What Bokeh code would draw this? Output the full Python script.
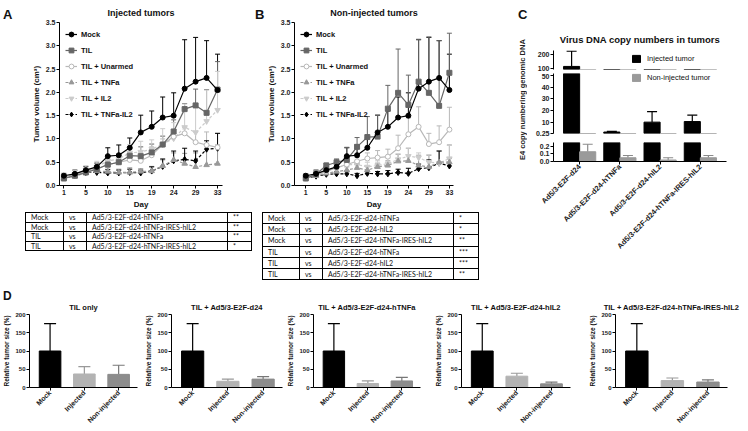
import math
from bokeh.plotting import figure
from bokeh.models import (ColumnDataSource, Whisker, TeeHead, Legend, LegendItem, FixedTicker,
                          Div, Spacer, Range1d, PrintfTickFormatter, NumeralTickFormatter)
from bokeh.layouts import row, column
from bokeh.transform import dodge
from bokeh.embed import file_html
from bokeh.resources import INLINE

# ---------------- data ----------------
days = [1, 3, 5, 8, 10, 12, 15, 17, 19, 22, 24, 26, 29, 31, 33]
day_ticks = [1, 5, 10, 15, 19, 24, 29, 33]
vol_ticks = [0.0, 0.5, 1.0, 1.5, 2.0, 2.5, 3.0, 3.5]
series_names = ["Mock", "TIL", "TIL + Unarmed", "TIL + TNFa", "TIL + IL2", "TIL + TNFa-IL2"]

# A: injected tumors (mean, SEM)
mock_a = [0.21, 0.25, 0.33, 0.40, 0.63, 0.65, 0.81, 1.14, 1.26, 1.46, 1.50, 2.08, 2.23, 2.31, 2.05]
mock_a_err = [0.04, 0.08, 0.08, 0.08, 0.18, 0.22, 0.21, 0.37, 0.34, 0.44, 0.49, 1.05, 0.95, 0.80, 0.77]
til_a = [0.15, 0.21, 0.28, 0.35, 0.45, 0.50, 0.64, 0.63, 0.71, 0.88, 1.16, 1.64, 1.72, 1.56, 2.06]
til_a_err = [0.05, 0.05, 0.06, 0.07, 0.08, 0.10, 0.15, 0.20, 0.18, 0.18, 0.25, 0.12, 0.35, 0.50, 0.60]
unarmed_a = [0.18, 0.22, 0.30, 0.36, 0.45, 0.50, 0.55, 0.53, 0.65, 0.88, 1.05, 1.12, 0.93, 0.87, 0.82]
unarmed_a_err = [0.04, 0.06, 0.08, 0.10, 0.12, 0.12, 0.15, 0.17, 0.18, 0.12, 0.15, 0.13, 0.22, 0.28, 0.30]
tnfa_a = [0.16, 0.20, 0.27, 0.31, 0.30, 0.28, 0.28, 0.30, 0.31, 0.42, 0.55, 0.47, 0.40, 0.44, 0.47]
tnfa_a_err = [0.04, 0.05, 0.05, 0.07, 0.08, 0.07, 0.10, 0.06, 0.10, 0.13, 0.15, 0.22, 0.30, 0.36, 0.40]
il2_a = [0.20, 0.24, 0.33, 0.40, 0.53, 0.57, 0.70, 0.72, 0.78, 0.88, 1.01, 1.25, 1.14, 1.38, 1.62]
il2_a_err = [0.07, 0.08, 0.09, 0.12, 0.12, 0.11, 0.18, 0.23, 0.20, 0.34, 0.34, 0.50, 0.58, 0.67, 0.83]
tnfail2_a = [0.17, 0.22, 0.28, 0.28, 0.27, 0.27, 0.28, 0.27, 0.31, 0.41, 0.53, 0.56, 0.53, 0.78, 0.80]
tnfail2_a_err = [0.05, 0.06, 0.04, 0.07, 0.07, 0.06, 0.07, 0.06, 0.09, 0.16, 0.21, 0.24, 0.21, 0.18, 0.32]

# B: non-injected tumors (mean, SEM)
mock_b = [0.21, 0.25, 0.33, 0.40, 0.63, 0.65, 0.81, 1.14, 1.26, 1.46, 1.50, 2.08, 2.23, 2.31, 2.05]
mock_b_err = [0.04, 0.08, 0.08, 0.08, 0.18, 0.22, 0.21, 0.37, 0.34, 0.44, 0.49, 1.05, 0.95, 0.80, 0.77]
til_b = [0.15, 0.24, 0.43, 0.50, 0.55, 0.83, 1.04, 1.05, 1.65, 1.99, 1.73, 2.23, 1.99, 1.71, 2.42]
til_b_err = [0.05, 0.07, 0.05, 0.07, 0.27, 0.20, 0.44, 0.46, 0.50, 0.94, 0.64, 0.91, 1.20, 1.40, 0.85]
unarmed_b = [0.18, 0.22, 0.30, 0.38, 0.45, 0.52, 0.58, 0.60, 0.62, 0.80, 1.10, 1.26, 0.89, 0.93, 1.20]
unarmed_b_err = [0.04, 0.05, 0.07, 0.08, 0.10, 0.08, 0.12, 0.15, 0.16, 0.28, 0.35, 0.43, 0.23, 0.35, 0.48]
tnfa_b = [0.17, 0.21, 0.26, 0.30, 0.33, 0.38, 0.33, 0.40, 0.43, 0.52, 0.53, 0.43, 0.40, 0.50, 0.50]
tnfa_b_err = [0.04, 0.05, 0.05, 0.06, 0.07, 0.07, 0.08, 0.08, 0.10, 0.15, 0.27, 0.22, 0.25, 0.24, 0.37]
il2_b = [0.20, 0.25, 0.32, 0.38, 0.45, 0.45, 0.40, 0.43, 0.47, 0.56, 0.63, 0.60, 0.50, 0.48, 0.58]
il2_b_err = [0.05, 0.06, 0.07, 0.08, 0.08, 0.09, 0.10, 0.10, 0.12, 0.12, 0.17, 0.10, 0.16, 0.27, 0.28]
tnfail2_b = [0.16, 0.20, 0.24, 0.25, 0.25, 0.21, 0.26, 0.25, 0.25, 0.28, 0.26, 0.36, 0.38, 0.48, 0.42]
tnfail2_b_err = [0.04, 0.05, 0.05, 0.05, 0.06, 0.05, 0.05, 0.05, 0.07, 0.07, 0.11, 0.10, 0.17, 0.26, 0.17]

# tables of significance
ta_group = ["Mock", "Mock", "TIL", "TIL"]
ta_virus = ["Ad5/3-E2F-d24-hTNFa", "Ad5/3-E2F-d24-hTNFa-IRES-hIL2",
            "Ad5/3-E2F-d24-hTNFa", "Ad5/3-E2F-d24-hTNFa-IRES-hIL2"]
ta_sig = ["**", "**", "**", "*"]
tb_group = ["Mock", "Mock", "Mock", "TIL", "TIL", "TIL"]
tb_virus = ["Ad5/3-E2F-d24-hTNFa", "Ad5/3-E2F-d24-hIL2", "Ad5/3-E2F-d24-hTNFa-IRES-hIL2",
            "Ad5/3-E2F-d24-hTNFa", "Ad5/3-E2F-d24-hIL2", "Ad5/3-E2F-d24-hTNFa-IRES-hIL2"]
tb_sig = ["*", "*", "**", "***", "***", "**"]

# C: virus DNA copy numbers
c_groups = ["Ad5/3-E2F-d24", "Ad5/3-E2F-d24-hTNFa", "Ad5/3-E2F-d24-hIL2", "Ad5/3-E2F-d24-hTNFa-IRES-hIL2"]
c_injected = [115, 1.5, 10, 10.5]
c_injected_err = [110, 0.5, 9, 5.5]
c_noninjected = [0.13, 0.05, 0.02, 0.05]
c_noninjected_err = [0.10, 0.03, 0.03, 0.03]
c_top_ticks = [100, 200]
c_mid_ticks = [0.25, 10, 20, 30, 40, 50]
c_bot_ticks = [0.0, 0.1, 0.2]

# D: relative tumor size
d_titles = ["TIL only", "TIL + Ad5/3-E2F-d24", "TIL + Ad5/3-E2F-d24-hTNFa",
            "TIL + Ad5/3-E2F-d24-hIL2", "TIL + Ad5/3-E2F-d24-hTNFa-IRES-hIL2"]
d_cats = ["Mock", "Injected", "Non-injected"]
d_mock = [100, 100, 100, 100, 100]
d_mock_err = [75, 75, 75, 75, 75]
d_injected = [37, 17, 11, 31, 19]
d_injected_err = [20, 6, 7, 8, 7]
d_noninjected = [36, 23, 18, 10, 15]
d_noninjected_err = [25, 7, 10, 5, 6]
d_ticks = [0, 50, 100, 150, 200]

# ---------------- style ----------------
FONT = "Liberation Sans"
series_style = [
    ("black", "solid", "circle", "black", 5),
    ("#666666", "solid", "square", "#666666", 5),
    ("#b8b8b8", "solid", "circle", "white", 5),
    ("#999999", "3 2", "triangle", "#999999", 5.5),
    ("#cccccc", "3 2", "inverted_triangle", "#cccccc", 5.5),
    ("black", "3 2", "diamond", "black", 6),
]
d_colors = ["black", "#b3b3b3", "#8c8c8c"]
d_err_colors = ["black", "#999999", "#777777"]


def style_axes(p, tick_fs="7px", label_fs="8px"):
    for ax in p.axis:
        ax.axis_line_color = "black"
        ax.axis_line_width = 1
        ax.major_tick_line_color = "black"
        ax.major_tick_out = 3
        ax.major_tick_in = 0
        ax.minor_tick_line_color = None
        ax.major_label_text_font = FONT
        ax.major_label_text_font_style = "bold"
        ax.major_label_text_font_size = tick_fs
        ax.major_label_text_color = "#222222"
        ax.axis_label_text_font = FONT
        ax.axis_label_text_font_style = "bold"
        ax.axis_label_text_font_size = label_fs
        ax.axis_label_text_color = "#111111"
        ax.major_label_standoff = 1
        ax.axis_label_standoff = 2
    p.grid.visible = False
    p.outline_line_color = None
    p.background_fill_color = None
    p.border_fill_color = None


def style_title(p, text, fs, standoff):
    p.title.text = text
    p.title.align = "center"
    p.title.text_font = FONT
    p.title.text_font_style = "bold"
    p.title.text_font_size = fs
    p.title.text_color = "#111111"
    p.title.standoff = standoff


def letter_div(txt, w, h, pad_top, pad_left, fs=13, lh=13):
    return Div(text=(f'<div style="font:bold {fs}px/{lh}px \'Liberation Sans\';'
                     f'padding:{pad_top}px 0 0 {pad_left}px;color:#111;white-space:nowrap">{txt}</div>'),
               width=w, height=h, margin=0)


idx = list(range(len(days)))


def line_panel(title, data, width, left, right, xr):
    p = figure(width=width, height=211, x_range=Range1d(*xr), y_range=Range1d(0, 3.5),
               output_backend="svg", toolbar_location=None,
               min_border_left=left, min_border_right=right, min_border_top=21, min_border_bottom=22)
    style_title(p, title, "9px", 10)
    rends = []
    for name, (vals, errs), st in zip(series_names, data, series_style):
        color, dash, marker, fill, size = st
        src = ColumnDataSource(dict(x=idx, y=vals, top=[v + e for v, e in zip(vals, errs)]))
        p.add_layout(Whisker(source=src, base="x", lower="y", upper="top", line_color=color,
                             line_width=1, upper_head=TeeHead(size=5, line_color=color, line_width=1),
                             lower_head=None))
        rends.append((name, src, color, dash, marker, fill, size))
    items = []
    for name, src, color, dash, marker, fill, size in reversed(rends):
        r1 = p.line("x", "y", source=src, line_color=color, line_width=1.2, line_dash=dash)
        r2 = p.scatter("x", "y", source=src, marker=marker, size=size, fill_color=fill,
                       line_color=color, line_width=1)
        items.insert(0, LegendItem(label=name, renderers=[r1, r2]))
    leg = Legend(items=items, location="top_left", border_line_color=None,
                 background_fill_alpha=0, label_text_font=FONT, label_text_font_style="bold",
                 label_text_font_size="7.5px", label_text_color="#111111",
                 glyph_width=12, glyph_height=12, label_height=12,
                 spacing=4, padding=2, margin=6, label_standoff=4)
    p.add_layout(leg)
    style_axes(p)
    p.yaxis.ticker = FixedTicker(ticks=vol_ticks)
    p.yaxis.formatter = NumeralTickFormatter(format="0.0")
    p.yaxis.axis_label = "Tumor volume (cm³)"
    p.xaxis.ticker = FixedTicker(ticks=[days.index(d) for d in day_ticks])
    p.xaxis.major_label_overrides = {days.index(d): str(d) for d in day_ticks}
    p.xaxis.axis_label = "Day"
    return p


figA = line_panel("Injected tumors",
                  [(mock_a, mock_a_err), (til_a, til_a_err), (unarmed_a, unarmed_a_err),
                   (tnfa_a, tnfa_a_err), (il2_a, il2_a_err), (tnfail2_a, tnfail2_a_err)],
                  232, 41, 28, (-0.4, 14.45))
figB = line_panel("Non-injected tumors",
                  [(mock_b, mock_b_err), (til_b, til_b_err), (unarmed_b, unarmed_b_err),
                   (tnfa_b, tnfa_b_err), (il2_b, il2_b_err), (tnfail2_b, tnfail2_b_err)],
                  218, 23, 28, (-1.1, 14.4))


def table_div(group, virus, sig, colw, row_h, width, height):
    cols = "".join(f'<col style="width:{w}px">' for w in colw)
    body = ""
    for a, b, c in zip(group, virus, sig):
        cells = "".join(
            f'<td style="border:1px solid #000;padding:0 0 0 5px;height:{row_h}px;'
            f'line-height:{row_h}px;white-space:nowrap;overflow:hidden">{t}</td>'
            for t in (a, "vs", b, c))
        body += f"<tr>{cells}</tr>"
    html = (f'<table style="border-collapse:collapse;table-layout:fixed;width:{sum(colw)}px;'
            f'border:1.6px solid #000;font-family:Lato;font-size:7px;color:#111;margin:0">'
            f'<colgroup>{cols}</colgroup>{body}</table>')
    return Div(text=html, width=width, height=height, margin=0)


divA = table_div(ta_group, ta_virus, ta_sig, [38, 23, 141, 24], 8.6, 226, 40)
divB = table_div(tb_group, tb_virus, tb_sig, [37, 23, 131, 25], 10.2, 216, 67)

# ---------------- C ----------------
cx = list(range(len(c_groups)))
cx_range = Range1d(-0.65, 3.65)
c_src = ColumnDataSource(dict(x=cx, inj=c_injected, non=c_noninjected))


def c_seg(height, top_b, bot_b, yr, ticks, fmt):
    p = figure(width=222, height=height, x_range=cx_range, y_range=Range1d(*yr),
               output_backend="svg", toolbar_location=None,
               min_border_left=26, min_border_right=23, min_border_top=top_b, min_border_bottom=bot_b)
    r_inj = p.vbar(x=dodge("x", -0.2), top="inj", bottom=0, width=0.4, source=c_src,
                   fill_color="black", line_color="black")
    r_non = p.vbar(x=dodge("x", 0.2), top="non", bottom=0, width=0.4, source=c_src,
                   fill_color="#9a9a9a", line_color="#9a9a9a")
    for vals, errs, off, color in [(c_injected, c_injected_err, -0.2, "black"),
                                   (c_noninjected, c_noninjected_err, 0.2, "#8a8a8a")]:
        rows_ = [i for i, v in enumerate(vals) if yr[0] <= v < yr[1]]
        if rows_:
            src = ColumnDataSource(dict(x=[cx[i] + off for i in rows_], lo=[vals[i] for i in rows_],
                                        hi=[vals[i] + errs[i] for i in rows_]))
            p.add_layout(Whisker(source=src, base="x", lower="lo", upper="hi", line_color=color,
                                 line_width=1.2,
                                 upper_head=TeeHead(size=10, line_color=color, line_width=1.2),
                                 lower_head=None))
    style_axes(p)
    p.yaxis.ticker = FixedTicker(ticks=ticks)
    p.yaxis.formatter = fmt
    return p, r_inj, r_non


def c_legend(item, loc):
    return Legend(items=[item], location=loc, border_line_color=None, background_fill_alpha=0,
                  label_text_font=FONT, label_text_font_size="7.5px", label_text_color="#111111",
                  glyph_width=10, glyph_height=9, label_height=9, spacing=0, padding=0, margin=0,
                  label_standoff=6)


ct, ri, rn = c_seg(73, 50, 4, (93, 229), c_top_ticks, PrintfTickFormatter(format="%g"))
ct.xaxis.visible = False
style_title(ct, "Virus DNA copy numbers in tumors", "9.5px", 12)
ct.add_layout(c_legend(LegendItem(label="Injected tumor", renderers=[ri]), (78, 6)))
cm, ri2, rn2 = c_seg(65, 0, 5, (0.25, 51.7), c_mid_ticks, PrintfTickFormatter(format="%g"))
cm.xaxis.visible = False
cm.add_layout(c_legend(LegendItem(label="Non-injected tumor", renderers=[rn2]), (78, 51)))
cb, _, _ = c_seg(150, 4, 127, (0, 0.253), c_bot_ticks, NumeralTickFormatter(format="0.0"))
cb.xaxis.ticker = FixedTicker(ticks=cx)
cb.xaxis.major_label_overrides = {i: g for i, g in zip(cx, c_groups)}
cb.xaxis.major_label_orientation = math.pi / 4
cb.xaxis.major_label_text_font_size = "7.5px"

divC = Div(text=(
    '<div style="font:bold 13px/13px \'Liberation Sans\';padding:8px 0 0 37px;color:#111">C</div>'
    '<div style="margin:9px 0 0 37px;width:9px;height:140px;writing-mode:vertical-rl;'
    'transform:rotate(180deg);text-align:center;white-space:nowrap;'
    'font:bold 7.5px \'Liberation Sans\';color:#222">E4 copy numbering genomic DNA</div>'),
    width=46, height=288, margin=0)

# ---------------- D ----------------
d_widths = [142, 142, 148, 154, 162]
d_left = [22, 25, 21, 23, 26]
d_x = list(range(len(d_cats)))
d_figs = []
for k, w in enumerate(d_widths):
    p = figure(width=w, height=134, x_range=Range1d(-0.6, 2.55), y_range=Range1d(0, 200),
               output_backend="svg", toolbar_location=None,
               min_border_left=d_left[k], min_border_right=w - d_left[k] - 115, min_border_top=15,
               min_border_bottom=44)
    style_title(p, d_titles[k], "7.5px", 6)
    vals = [d_mock[k], d_injected[k], d_noninjected[k]]
    errs = [d_mock_err[k], d_injected_err[k], d_noninjected_err[k]]
    src = ColumnDataSource(dict(x=d_x, top=vals, color=d_colors))
    for i in d_x:
        wsrc = ColumnDataSource(dict(x=[d_x[i]], lo=[vals[i]], hi=[vals[i] + errs[i]]))
        p.add_layout(Whisker(source=wsrc, base="x", lower="lo", upper="hi",
                             line_color=d_err_colors[i], line_width=1.2,
                             upper_head=TeeHead(size=12, line_color=d_err_colors[i], line_width=1.2),
                             lower_head=None))
    p.vbar(x="x", top="top", bottom=0, width=0.63, source=src, fill_color="color", line_color="color")
    style_axes(p, tick_fs="6px", label_fs="6.5px")
    p.yaxis.ticker = FixedTicker(ticks=d_ticks)
    p.yaxis.axis_label = "Relative tumor size (%)"
    p.xaxis.ticker = FixedTicker(ticks=d_x)
    p.xaxis.major_label_overrides = {i: c for i, c in zip(d_x, d_cats)}
    p.xaxis.major_label_orientation = math.pi / 4
    p.xaxis.major_label_text_font_size = "7px"
    d_figs.append(p)

colA = column(row(letter_div("A", 18, 211, 8, 3), figA), Spacer(height=1),
              row(Spacer(width=25), divA))
colB = column(row(letter_div("B", 12, 211, 8, 4), figB), Spacer(height=1),
              row(Spacer(width=11), divB))
colC = row(divC, column(ct, cm, cb))
top_row = row(colA, colB, colC)
page = column(top_row, letter_div("D", 748, 9, 0, 3, 12, 9), row(*d_figs))

open("out.html", "w").write(file_html(page, INLINE))
